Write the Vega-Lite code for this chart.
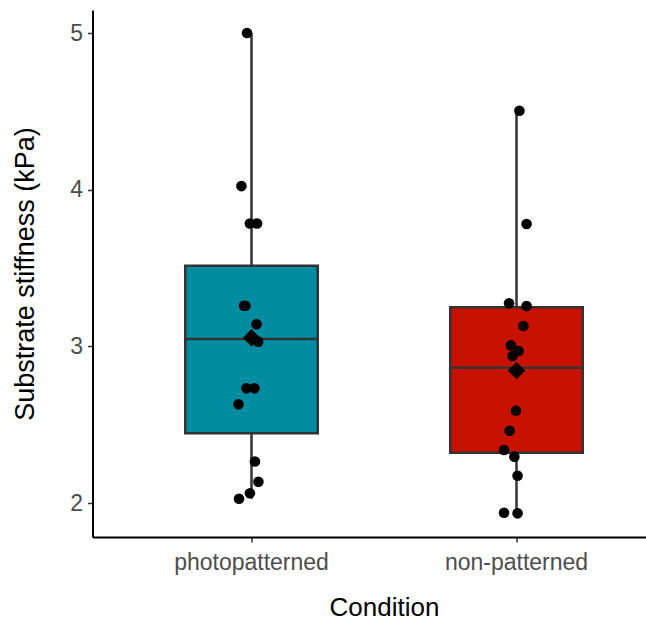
{
  "$schema": "https://vega.github.io/schema/vega-lite/v6.json",
  "autosize": "none",
  "padding": {"left": 92.5, "top": 10, "right": 0, "bottom": 85},
  "width": 583,
  "height": 527,
  "background": "white",
  "config": {
    "view": {"stroke": null},
    "font": "Liberation Sans",
    "axis": {
      "grid": false,
      "domainColor": "black",
      "domainWidth": 2,
      "tickColor": "#333333",
      "tickWidth": 1.5,
      "tickSize": 5,
      "labelColor": "#4D4D4D",
      "labelFontSize": 23,
      "labelFont": "Liberation Sans",
      "titleFont": "Liberation Sans",
      "titleFontSize": 26,
      "titleFontWeight": "normal",
      "titleColor": "black"
    }
  },
  "datasets": {
    "boxes": [
      {"Condition": "photopatterned", "lower": 2.027, "q1": 2.445, "median": 3.047, "q3": 3.515, "upper": 5.0, "mean": 3.055},
      {"Condition": "non-patterned", "lower": 1.934, "q1": 2.321, "median": 2.864, "q3": 3.249, "upper": 4.504, "mean": 2.845}
    ],
    "points": [
      {"Condition": "photopatterned", "stiffness": 5.0, "jitter": -0.017},
      {"Condition": "photopatterned", "stiffness": 4.023, "jitter": -0.038},
      {"Condition": "photopatterned", "stiffness": 3.784, "jitter": -0.006},
      {"Condition": "photopatterned", "stiffness": 3.784, "jitter": 0.021},
      {"Condition": "photopatterned", "stiffness": 3.259, "jitter": -0.028},
      {"Condition": "photopatterned", "stiffness": 3.259, "jitter": -0.023},
      {"Condition": "photopatterned", "stiffness": 3.141, "jitter": 0.019},
      {"Condition": "photopatterned", "stiffness": 3.03, "jitter": 0.025},
      {"Condition": "photopatterned", "stiffness": 2.732, "jitter": -0.019},
      {"Condition": "photopatterned", "stiffness": 2.732, "jitter": 0.011},
      {"Condition": "photopatterned", "stiffness": 2.63, "jitter": -0.049},
      {"Condition": "photopatterned", "stiffness": 2.265, "jitter": 0.013},
      {"Condition": "photopatterned", "stiffness": 2.136, "jitter": 0.026},
      {"Condition": "photopatterned", "stiffness": 2.062, "jitter": -0.006},
      {"Condition": "photopatterned", "stiffness": 2.027, "jitter": -0.047},
      {"Condition": "non-patterned", "stiffness": 4.504, "jitter": 0.011},
      {"Condition": "non-patterned", "stiffness": 3.781, "jitter": 0.038},
      {"Condition": "non-patterned", "stiffness": 3.275, "jitter": -0.028},
      {"Condition": "non-patterned", "stiffness": 3.257, "jitter": 0.038},
      {"Condition": "non-patterned", "stiffness": 3.13, "jitter": 0.026},
      {"Condition": "non-patterned", "stiffness": 3.006, "jitter": -0.021},
      {"Condition": "non-patterned", "stiffness": 2.97, "jitter": 0.008},
      {"Condition": "non-patterned", "stiffness": 2.938, "jitter": -0.015},
      {"Condition": "non-patterned", "stiffness": 2.589, "jitter": -0.002},
      {"Condition": "non-patterned", "stiffness": 2.461, "jitter": -0.026},
      {"Condition": "non-patterned", "stiffness": 2.338, "jitter": -0.047},
      {"Condition": "non-patterned", "stiffness": 2.296, "jitter": -0.008},
      {"Condition": "non-patterned", "stiffness": 2.174, "jitter": 0.004},
      {"Condition": "non-patterned", "stiffness": 1.938, "jitter": -0.047},
      {"Condition": "non-patterned", "stiffness": 1.934, "jitter": 0.004}
    ]
  },
  "encoding": {
    "x": {
      "field": "Condition",
      "type": "nominal",
      "sort": ["photopatterned", "non-patterned"],
      "scale": {"paddingInner": 0.5, "paddingOuter": 0.35},
      "axis": {"labelAngle": 0, "labelPadding": 9, "title": "Condition", "titlePadding": 20}
    }
  },
  "layer": [
    {
      "data": {"name": "boxes"},
      "mark": {"type": "rule", "color": "#333333", "strokeWidth": 2.5},
      "encoding": {
        "y": {
          "field": "lower",
          "type": "quantitative",
          "title": "Substrate stiffness (kPa)",
          "scale": {"domain": [1.783, 5.147], "nice": false, "zero": false},
          "axis": {"values": [2, 3, 4, 5], "format": "d", "labelPadding": 5, "titlePadding": 30, "titleFontSize": 27}
        },
        "y2": {"field": "upper"}
      }
    },
    {
      "data": {"name": "boxes"},
      "mark": {"type": "bar", "stroke": "#333333", "strokeWidth": 2.5, "width": 132.5, "opacity": 1},
      "encoding": {
        "y": {"field": "q1", "type": "quantitative", "title": "Substrate stiffness (kPa)"},
        "y2": {"field": "q3"},
        "color": {
          "field": "Condition",
          "type": "nominal",
          "scale": {"domain": ["photopatterned", "non-patterned"], "range": ["#008CA0", "#C81200"]},
          "legend": null
        }
      }
    },
    {
      "data": {"name": "boxes"},
      "mark": {"type": "tick", "color": "#333333", "thickness": 2.5, "size": 132.5, "opacity": 1},
      "encoding": {
        "y": {"field": "median", "type": "quantitative", "title": "Substrate stiffness (kPa)"}
      }
    },
    {
      "data": {"name": "points"},
      "mark": {"type": "point", "shape": "circle", "filled": true, "size": 113, "color": "black", "opacity": 1},
      "encoding": {
        "y": {"field": "stiffness", "type": "quantitative", "title": "Substrate stiffness (kPa)"},
        "xOffset": {"field": "jitter", "type": "quantitative", "scale": {"domain": [-0.25, 0.25]}}
      }
    },
    {
      "data": {"name": "boxes"},
      "mark": {"type": "point", "shape": "diamond", "filled": true, "size": 300, "color": "black", "opacity": 1},
      "encoding": {
        "y": {"field": "mean", "type": "quantitative", "title": "Substrate stiffness (kPa)"}
      }
    }
  ]
}
